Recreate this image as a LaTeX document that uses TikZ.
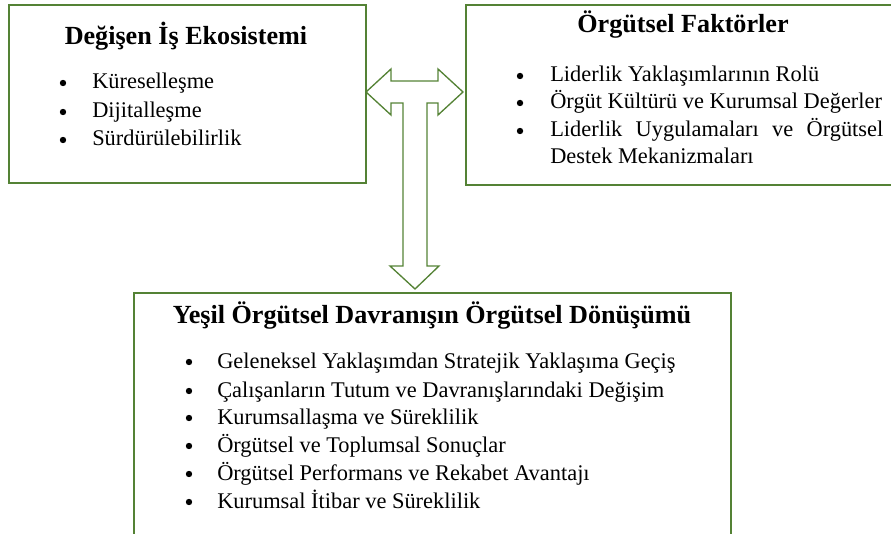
\documentclass[tikz,border=0pt]{standalone}
\usepackage{fontspec}
\setmainfont{Liberation Serif}
\newfontfamily\tnr{Liberation Serif}
\usepackage{xcolor}
\usepackage{tikz}

\definecolor{boxgreen}{RGB}{84,130,53}

\begin{document}
\begin{tikzpicture}[x=0.75pt,y=0.75pt,yscale=-1,xscale=1,
	box/.style={draw=boxgreen,line width=1pt},
	heading/.style={anchor=base,inner sep=0pt,font=\tnr\fontsize{19.6}{23}\selectfont\bfseries},
	item/.style={anchor=base west,inner sep=0pt,font=\tnr\fontsize{16.8}{21}\selectfont},
	dot/.style={circle,fill=black,inner sep=0pt,minimum size=4.8pt}]
	\useasboundingbox (0,0) rectangle (891,534);
	\clip (0,0) rectangle (891,534);
	
	%Rect -- left box
	\draw [box] (9,5) rectangle (366,183);
	%Rect -- right box
	\draw [box] (466,5) rectangle (900,185);
	%Rect -- bottom box
	\draw [box] (134,293) rectangle (731,545);
	
	%Block Arrow -- left/right and down
	\draw [box,line join=miter] (366,92) -- (391,69) -- (391,81) -- (438,81) -- (438,69) -- (463,92) -- (438,115) -- (438,103) -- (427,103) -- (427,266) -- (439,266) -- (415,289) -- (390,266) -- (403,266) -- (403,103) -- (391,103) -- (391,115) -- cycle ;
	
	% Text Node
	\node (ekoTitle) at (186,45) [heading] {Değişen İş Ekosistemi};
	% Text Node
	\node (ekoDotA) at (63,83) [dot] {};
	\node (ekoA) at (92,89) [item] {Küreselleşme};
	% Text Node
	\node (ekoDotB) at (63,112) [dot] {};
	\node (ekoB) at (92,118) [item] {Dijitalleşme};
	% Text Node
	\node (ekoDotC) at (63,140) [dot] {};
	\node (ekoC) at (92,146) [item] {Sürdürülebilirlik};
	
	% Text Node
	\node (faktorTitle) at (683,33) [heading] {Örgütsel Faktörler};
	% Text Node
	\node (faktorDotA) at (520,76) [dot] {};
	\node (faktorA) at (550,82) [item] {Liderlik Yaklaşımlarının Rolü};
	% Text Node
	\node (faktorDotB) at (520,103) [dot] {};
	\node (faktorB) at (550,109) [item] {Örgüt Kültürü ve Kurumsal Değerler};
	% Text Node
	\node (faktorDotC) at (520,131) [dot] {};
	\node (faktorC) at (550,137) [item] {\makebox[249.75pt][s]{Liderlik Uygulamaları ve Örgütsel}};
	\node (faktorD) at (550,164) [item] {Destek Mekanizmaları};
	
	% Text Node
	\node (donusumTitle) at (432,323) [heading] {Yeşil Örgütsel Davranışın Örgütsel Dönüşümü};
	% Text Node
	\node (donusumDotA) at (189,362) [dot] {};
	\node (donusumA) at (217,368) [item] {Geleneksel Yaklaşımdan Stratejik Yaklaşıma Geçiş};
	% Text Node
	\node (donusumDotB) at (189,391) [dot] {};
	\node (donusumB) at (217,397) [item] {Çalışanların Tutum ve Davranışlarındaki Değişim};
	% Text Node
	\node (donusumDotC) at (189,418) [dot] {};
	\node (donusumC) at (217,424) [item] {Kurumsallaşma ve Süreklilik};
	% Text Node
	\node (donusumDotD) at (189,446) [dot] {};
	\node (donusumD) at (217,452) [item] {Örgütsel ve Toplumsal Sonuçlar};
	% Text Node
	\node (donusumDotE) at (189,474) [dot] {};
	\node (donusumE) at (217,480) [item] {Örgütsel Performans ve Rekabet Avantajı};
	% Text Node
	\node (donusumDotF) at (189,502) [dot] {};
	\node (donusumF) at (217,508) [item] {Kurumsal İtibar ve Süreklilik};
	
\end{tikzpicture}
\end{document}
